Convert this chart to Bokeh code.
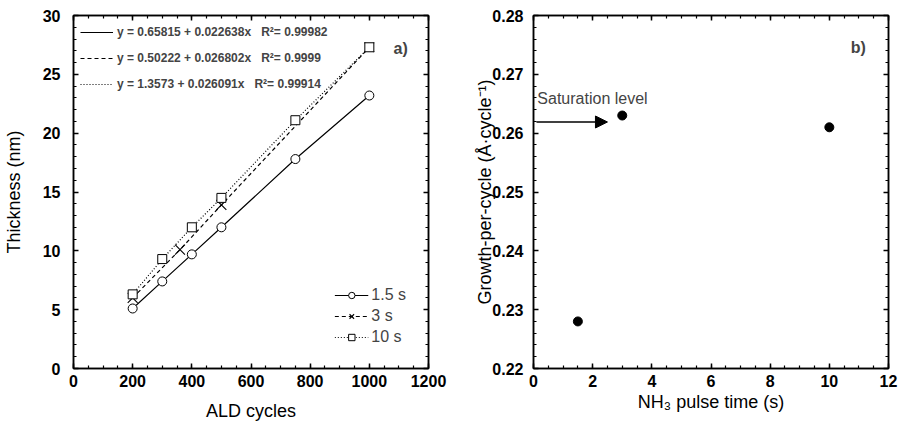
from bokeh.plotting import figure
from bokeh.layouts import row
from bokeh.models import (Range1d, LinearAxis, SingleIntervalTicker, Legend, LegendItem,
                          Label, Arrow, NormalHead)
from bokeh.embed import file_html
from bokeh.resources import INLINE

# ---------------- data ----------------
cycles_15 = [200, 300, 400, 500, 750, 1000]
thick_15 = [5.1, 7.4, 9.7, 12.0, 17.8, 23.2]
cycles_3 = [200, 360, 500, 1000]
thick_3 = [6.0, 10.1, 13.9, 27.3]
cycles_10 = [200, 300, 400, 500, 750, 1000]
thick_10 = [6.3, 9.3, 12.0, 14.5, 21.1, 27.3]
series_labels = ["1.5 s", "3 s", "10 s"]
fit_labels = [
    "y = 0.65815 + 0.022638x   R\u00b2= 0.99982",
    "y = 0.50222 + 0.026802x   R\u00b2= 0.9999",
    "y = 1.3573 + 0.026091x   R\u00b2= 0.99914",
]

pulse_time = [1.5, 3, 10]
gpc = [0.228, 0.263, 0.261]

FONT = "Liberation Sans"


def style_axis(ax, ticker, show_labels, label_standoff=8):
    ax.ticker = ticker
    ax.major_tick_in = 5
    ax.major_tick_out = 0
    ax.minor_tick_in = 3
    ax.minor_tick_out = 0
    ax.axis_line_width = 1.5
    ax.major_tick_line_width = 1.5
    ax.minor_tick_line_width = 1.2
    ax.axis_line_color = "black"
    ax.major_tick_line_color = "black"
    ax.minor_tick_line_color = "black"
    ax.major_label_text_font = FONT
    ax.major_label_text_font_style = "bold"
    ax.axis_label_text_font = FONT
    ax.axis_label_text_font_style = "normal"
    ax.axis_label_text_font_size = "18px"
    ax.axis_label_text_color = "black"
    if show_labels:
        ax.major_label_text_color = "black"
        ax.major_label_text_font_size = "16px"
        ax.major_label_standoff = label_standoff
    else:
        ax.major_label_text_color = None
        ax.major_label_text_font_size = "1px"
        ax.major_label_standoff = 0


# ---------------- panel a ----------------
p1 = figure(frame_width=355, frame_height=353, output_backend="svg", toolbar_location=None,
            x_range=Range1d(0, 1200), y_range=Range1d(0, 30),
            min_border_left=73, min_border_right=22, min_border_top=15, min_border_bottom=50)
p1.xgrid.visible = False
p1.ygrid.visible = False
p1.outline_line_color = "black"
p1.outline_line_width = 1.5
p1.xaxis.axis_label = "ALD cycles"
p1.yaxis.axis_label = "Thickness (nm)"
xt1 = SingleIntervalTicker(interval=200, num_minor_ticks=4)
yt1 = SingleIntervalTicker(interval=5, num_minor_ticks=5)
style_axis(p1.xaxis[0], xt1, True, 6)
style_axis(p1.yaxis[0], yt1, True, 13)
p1.xaxis[0].axis_label_standoff = 11
p1.yaxis[0].axis_label_standoff = 16
ta = LinearAxis(); style_axis(ta, xt1, False); p1.add_layout(ta, "above")
ra = LinearAxis(); style_axis(ra, yt1, False); p1.add_layout(ra, "right")

l15 = p1.line(cycles_15, thick_15, line_color="black", line_width=1.2)
l3 = p1.line(cycles_3, thick_3, line_color="black", line_width=1.2, line_dash="4 3")
l10 = p1.line(cycles_10, thick_10, line_color="black", line_width=1.2, line_dash="1 2")
m15 = p1.scatter(cycles_15, thick_15, marker="circle", size=9, fill_color="white", line_color="black", line_width=1)
m3 = p1.scatter(cycles_3, thick_3, marker="x", size=14, line_color="black", line_width=1.1)
m10 = p1.scatter(cycles_10, thick_10, marker="square", size=9, fill_color="white", line_color="black", line_width=1)

leg_eq = Legend(items=[LegendItem(label=fit_labels[i], renderers=[r]) for i, r in enumerate([l15, l3, l10])],
                location=(7, 277), margin=0, padding=0, spacing=12, glyph_width=33, glyph_height=14,
                label_height=14, label_standoff=4, label_text_font=FONT, label_text_font_size="12px",
                label_text_font_style="bold", border_line_color=None, background_fill_alpha=0)
p1.add_layout(leg_eq, "center")

leg_s = Legend(items=[LegendItem(label=series_labels[i], renderers=list(rs))
                      for i, rs in enumerate([(l15, m15), (l3, m3), (l10, m10)])],
               location="bottom_right", margin=22, padding=0, spacing=3, glyph_width=34, glyph_height=16,
               label_height=16, label_standoff=3, label_text_font=FONT, label_text_font_size="16px",
               border_line_color=None, background_fill_alpha=0)
p1.add_layout(leg_s, "center")

p1.add_layout(Label(x=1082, y=27.2, text="a)", text_font=FONT, text_font_size="16px",
                    text_font_style="bold", text_baseline="middle"))

# ---------------- panel b ----------------
p2 = figure(frame_width=355, frame_height=353, output_backend="svg", toolbar_location=None,
            x_range=Range1d(0, 12), y_range=Range1d(0.22, 0.28),
            min_border_left=83, min_border_right=14, min_border_top=15, min_border_bottom=50)
p2.xgrid.visible = False
p2.ygrid.visible = False
p2.outline_line_color = "black"
p2.outline_line_width = 1.5
p2.xaxis.axis_label = "NH\u2083 pulse time (s)"
p2.yaxis.axis_label = "Growth-per-cycle (\u00c5\u00b7cycle\u207b\u00b9)"
xt2 = SingleIntervalTicker(interval=2, num_minor_ticks=4)
yt2 = SingleIntervalTicker(interval=0.01, num_minor_ticks=5)
style_axis(p2.xaxis[0], xt2, True, 6)
style_axis(p2.yaxis[0], yt2, True, 10)
p2.xaxis[0].axis_label_standoff = 2
p2.yaxis[0].axis_label_standoff = -6
ta2 = LinearAxis(); style_axis(ta2, xt2, False); p2.add_layout(ta2, "above")
ra2 = LinearAxis(); style_axis(ra2, yt2, False); p2.add_layout(ra2, "right")

p2.scatter(pulse_time, gpc, marker="circle", size=9, fill_color="black", line_color="black")

p2.add_layout(Arrow(end=NormalHead(size=12, fill_color="black", line_color="black"),
                    x_start=0.1, y_start=0.2619, x_end=2.5, y_end=0.2619,
                    line_color="black", line_width=1.5))
p2.add_layout(Label(x=0.13, y=0.2659, text="Saturation level", text_font=FONT, text_font_size="16px",
                    text_baseline="middle"))
p2.add_layout(Label(x=10.72, y=0.2746, text="b)", text_font=FONT, text_font_size="16px",
                    text_font_style="bold", text_baseline="middle"))

layout = row(p1, p2)
open("out.html", "w").write(file_html(layout, INLINE))
